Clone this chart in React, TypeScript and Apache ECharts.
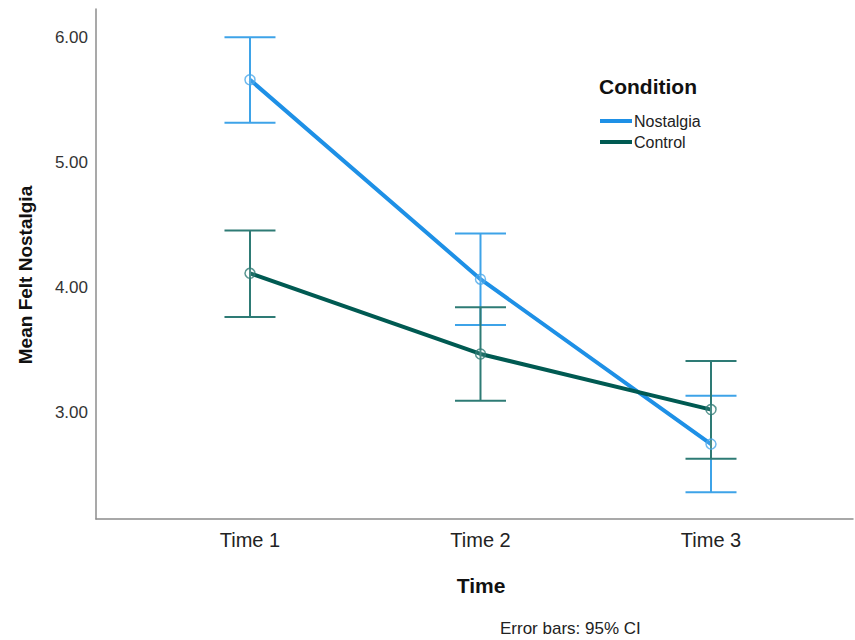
import React, { useEffect, useRef } from "react";
import * as echarts from "echarts";

const categories = ["Time 1", "Time 2", "Time 3"];
const seriesNames = ["Nostalgia", "Control"];
const nostalgiaMean = [5.66, 4.065, 2.746];
const nostalgiaLow = [5.317, 3.698, 2.36];
const nostalgiaHigh = [6.0, 4.431, 3.132];
const controlMean = [4.112, 3.467, 3.022];
const controlLow = [3.762, 3.092, 2.629];
const controlHigh = [4.455, 3.841, 3.411];
const yTicks = [3, 4, 5, 6];

const FONT = "'Liberation Sans', Arial, sans-serif";

export default function App() {
  const ref = useRef<HTMLDivElement>(null);
  useEffect(() => {
    document.body.style.margin = "0";
    const chart = echarts.init(ref.current!, undefined, { renderer: "svg" });
    const xs = categories.map((_, i) => i + 1);
    const errData = (low: number[], high: number[]) => xs.map((x, i) => [x, low[i], high[i]]);
    const renderErr = (color: string) => (params: any, api: any) => {
      const x = api.value(0);
      const lo = api.coord([x, api.value(1)]);
      const hi = api.coord([x, api.value(2)]);
      const hw = 25.5;
      const style = { stroke: color, lineWidth: 2 };
      return {
        type: "group",
        children: [
          { type: "line", shape: { x1: hi[0], y1: hi[1], x2: lo[0], y2: lo[1] }, style },
          { type: "line", shape: { x1: hi[0] - hw, y1: hi[1], x2: hi[0] + hw, y2: hi[1] }, style },
          { type: "line", shape: { x1: lo[0] - hw, y1: lo[1], x2: lo[0] + hw, y2: lo[1] }, style },
        ],
      };
    };
    chart.setOption({
      animation: false,
      textStyle: { fontFamily: FONT },
      grid: { left: 96, right: 2, top: 9, bottom: 121 },
      xAxis: {
        type: "value",
        min: 0.332,
        max: 3.616,
        axisLine: { show: true, lineStyle: { color: "#8c8c8c", width: 1.5 } },
        axisTick: { show: false },
        splitLine: { show: false },
        axisLabel: {
          customValues: xs,
          formatter: (v: number) => categories[Math.round(v) - 1] ?? "",
          color: "#222",
          fontSize: 20,
          margin: 11,
          fontFamily: FONT,
        },
      },
      yAxis: {
        type: "value",
        min: 2.147,
        max: 6.226,
        axisLine: { show: true, lineStyle: { color: "#8c8c8c", width: 1.5 } },
        axisTick: { show: false },
        splitLine: { show: false },
        axisLabel: {
          customValues: yTicks,
          formatter: (v: number) => v.toFixed(2),
          color: "#333",
          fontSize: 17,
          margin: 8,
          fontFamily: FONT,
        },
      },
      legend: {
        orient: "vertical",
        left: 595,
        top: 108,
        icon: "rect",
        itemWidth: 32,
        itemHeight: 4,
        itemGap: 5,
        data: seriesNames,
        textStyle: { fontSize: 16, color: "#222", fontFamily: FONT, padding: [0, 0, 0, -3] },
      },
      graphic: [
        {
          type: "text",
          left: 599,
          top: 76,
          style: { text: "Condition", font: `bold 21px ${FONT}`, fill: "#111" },
        },
        {
          type: "text",
          x: 25,
          y: 275,
          rotation: Math.PI / 2,
          style: {
            text: "Mean Felt Nostalgia",
            font: `bold 19px 'Liberation Sans Narrow', ${FONT}`,
            fill: "#111",
            align: "center",
            verticalAlign: "middle",
          },
        },
        {
          type: "text",
          x: 481,
          y: 585,
          style: { text: "Time", font: `bold 21px ${FONT}`, fill: "#111", align: "center", verticalAlign: "middle" },
        },
        {
          type: "text",
          x: 500,
          y: 628,
          style: { text: "Error bars: 95% CI", font: `17px ${FONT}`, fill: "#222", align: "left", verticalAlign: "middle" },
        },
      ],
      series: [
        {
          name: "Nostalgia",
          type: "line",
          data: xs.map((x, i) => [x, nostalgiaMean[i]]),
          lineStyle: { color: "#1e90e6", width: 4 },
          itemStyle: { color: "#1e90e6" },
          showSymbol: false,
          z: 3,
        },
        {
          name: "Control",
          type: "line",
          data: xs.map((x, i) => [x, controlMean[i]]),
          lineStyle: { color: "#005a52", width: 4 },
          itemStyle: { color: "#005a52" },
          showSymbol: false,
          z: 3,
        },
        {
          type: "scatter",
          data: xs.map((x, i) => [x, nostalgiaMean[i]]),
          symbol: "circle",
          symbolSize: 10,
          itemStyle: { color: "rgba(255,255,255,0.15)", borderColor: "#4aa8ea", borderWidth: 1.5 },
          z: 5,
          silent: true,
        },
        {
          type: "scatter",
          data: xs.map((x, i) => [x, controlMean[i]]),
          symbol: "circle",
          symbolSize: 10,
          itemStyle: { color: "rgba(255,255,255,0.15)", borderColor: "#2f7a74", borderWidth: 1.5 },
          z: 5,
          silent: true,
        },
        {
          type: "custom",
          data: errData(nostalgiaLow, nostalgiaHigh),
          renderItem: renderErr("#3ea3e8"),
          z: 4,
          silent: true,
        },
        {
          type: "custom",
          data: errData(controlLow, controlHigh),
          renderItem: renderErr("#2e7b75"),
          z: 4,
          silent: true,
        },
      ],
    });
    return () => chart.dispose();
  }, []);
  return <div ref={ref} style={{ width: 855, height: 640 }} />;
}
